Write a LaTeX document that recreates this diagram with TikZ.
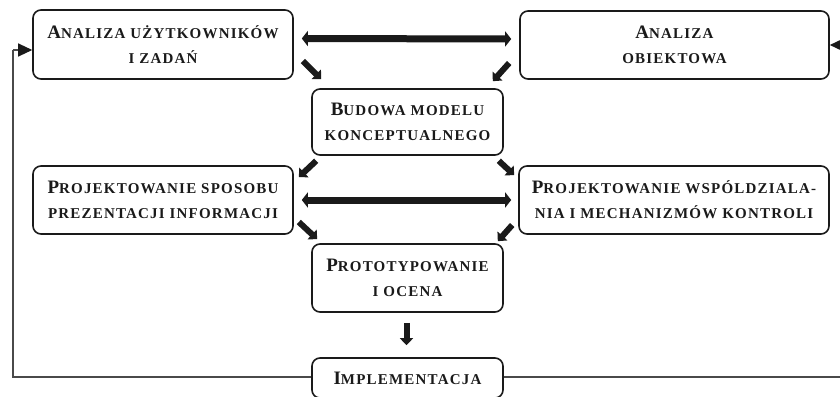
\documentclass[tikz,border=0pt]{standalone}
\usepackage{fontspec}
\setmainfont{Liberation Serif}[LetterSpace=8]
\usetikzlibrary{arrows.meta}
\definecolor{ink}{HTML}{1A1A1A}
\definecolor{thin}{HTML}{4A4A4A}
\newcommand\Ini[1]{{\fontsize{19}{19}\selectfont #1}}
\tikzset{
  boxnode/.style={draw=ink, line width=1.6pt, rounded corners=8pt, align=center,
    text=ink, font=\bfseries\fontsize{15}{25}\selectfont, inner sep=0pt},
  bigarrow/.style={draw=ink, line width=7pt, {Triangle[width=15pt,length=6pt]}-{Triangle[width=15pt,length=6pt]}},
  diagarrow/.style={draw=ink, line width=6pt, -{Triangle[width=13pt,length=7pt]}},
  feedback/.style={draw=thin, line width=1.3pt},
  fbtip/.style={-{Triangle[width=13pt,length=14pt,fill=ink,color=ink]}}
}
\begin{document}
\begin{tikzpicture}[x=1pt,y=-1pt]
\useasboundingbox (0,0) rectangle (840,396);
\fill[white] (0,0) rectangle (840,396);
% boxes (corners in pixel coords)
\node[boxnode, minimum width=260pt, minimum height=69pt] (A) at (163,44.5) {\Ini{A}NALIZA UŻYTKOWNIKÓW\\I ZADAŃ};
\node[boxnode, minimum width=309pt, minimum height=68pt] (B) at (674.5,45) {\Ini{A}NALIZA\\OBIEKTOWA};
\node[boxnode, minimum width=191pt, minimum height=66pt] (C) at (407.5,122) {\Ini{B}UDOWA MODELU\\KONCEPTUALNEGO};
\node[boxnode, minimum width=260pt, minimum height=68pt] (D) at (163,200) {\Ini{P}ROJEKTOWANIE SPOSOBU\\PREZENTACJI INFORMACJI};
\node[boxnode, minimum width=310pt, minimum height=68pt] (E) at (674,200) {\Ini{P}ROJEKTOWANIE WSPÓLDZIALA-\\NIA I MECHANIZMÓW KONTROLI};
\node[boxnode, minimum width=191pt, minimum height=68pt] (F) at (407.5,278) {\Ini{P}ROTOTYPOWANIE\\I OCENA};
\node[boxnode, minimum width=191pt, minimum height=40pt] (G) at (407.5,378) {\Ini{I}MPLEMENTACJA};
% thick double arrows
\draw[bigarrow] ([shift={(8,-6)}]A.east) -- ([shift={(-8,-6)}]B.west);
\draw[bigarrow] ([shift={(8,0)}]D.east) -- ([shift={(-7,0)}]E.west);
% diagonal arrows
\draw[diagarrow] ([shift={(9,16.5)}]A.east) -- ([shift={(10,-9)}]C.north west);
\draw[diagarrow] ([shift={(-10,18)}]B.west) -- ([shift={(-11,-7)}]C.north east);
\draw[diagarrow] ([shift={(5,5)}]C.south west) -- ([shift={(5,12)}]D.north east);
\draw[diagarrow] ([shift={(-5,5)}]C.south east) -- ([shift={(-4,10)}]E.north west);
\draw[diagarrow] ([shift={(5,22)}]D.east) -- ([shift={(6,-4)}]F.north west);
\draw[diagarrow] ([shift={(-6,25)}]E.west) -- ([shift={(-6,-2)}]F.north east);
\draw[diagarrow] ([shift={(-1,10)}]F.south) -- ([shift={(-1,-12)}]G.north);
% feedback lines
\coordinate (fl) at (13,377);
\coordinate (flt) at (13,50);
\coordinate (fr) at (846,377);
\coordinate (frt) at (846,45);
\draw[feedback] ([shift={(0,-1)}]G.west) -- (fl) -- (flt);
\draw[feedback, fbtip] (flt) -- ([shift={(0,5.5)}]A.west);
\draw[feedback] ([shift={(0,-1)}]G.east) -- (fr) -- (frt);
\draw[feedback, fbtip] (frt) -- (B.east);
\end{tikzpicture}
\end{document}
